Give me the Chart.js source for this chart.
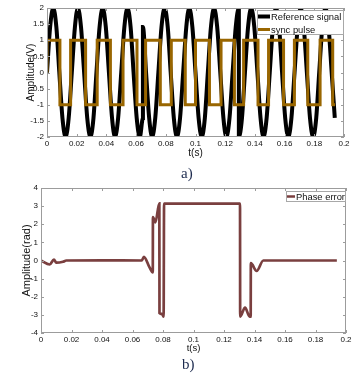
<!DOCTYPE html>
<html>
<head>
<meta charset="utf-8">
<script src="https://cdn.jsdelivr.net/npm/chart.js@4"></script>
<style>
  body { margin: 0; background: #fff; width: 359px; height: 376px; position: relative; overflow: hidden; }
  canvas { position: absolute; left: 0; }
  #chartA { top: 0; }
  #chartB { top: 180px; }
  .cap { position: absolute; font-family: "Liberation Serif", "Times New Roman", serif; font-size: 15px; color: #1d2b4f; line-height: 17px; }
</style>
</head>
<body>
<canvas id="chartA" width="359" height="160"></canvas>
<canvas id="chartB" width="359" height="175"></canvas>
<div class="cap" style="left:181px;top:165px">a)</div>
<div class="cap" style="left:182px;top:356px">b)</div>
<script>
// tick labels
const xTicks = [0, 0.02, 0.04, 0.06, 0.08, 0.1, 0.12, 0.14, 0.16, 0.18, 0.2];
const yTicksA = [-2, -1.5, -1, -0.5, 0, 0.5, 1, 1.5, 2];
const yTicksB = [-4, -3, -2, -1, 0, 1, 2, 3, 4];

// reference signal (V) at 1/8 period steps
const refT = [0, 0.0021, 0.0042, 0.0063, 0.0083, 0.0104, 0.0125, 0.0146,
  0.0167, 0.0188, 0.0208, 0.0229, 0.0250, 0.0271, 0.0292, 0.0313,
  0.0333, 0.0354, 0.0375, 0.0396, 0.0417, 0.0438, 0.0458, 0.0479,
  0.0500, 0.0521, 0.0542, 0.0563, 0.0583, 0.0604, 0.0625, 0.0646,
  0.0646, 0.0667, 0.0688, 0.0708, 0.0729, 0.0750, 0.0771, 0.0792,
  0.0813, 0.0833, 0.0854, 0.0875, 0.0896, 0.0917, 0.0938, 0.0958,
  0.0979, 0.1000, 0.1021, 0.1042, 0.1063, 0.1083, 0.1104, 0.1125,
  0.1146, 0.1167, 0.1188, 0.1208, 0.1229, 0.1250, 0.1271, 0.1292,
  0.1292, 0.1313, 0.1333, 0.1354, 0.1375, 0.1396, 0.1417, 0.1438,
  0.1458, 0.1479, 0.1500, 0.1521, 0.1542, 0.1563, 0.1583, 0.1604,
  0.1625, 0.1646, 0.1667, 0.1688, 0.1708, 0.1729, 0.1750, 0.1771,
  0.1792, 0.1813, 0.1833, 0.1854, 0.1875, 0.1896, 0.1917, 0.1938];
const refV = [0, 1.41, 2, 1.41, 0, -1.41, -2, -1.41,
  0, 1.41, 2, 1.41, 0, -1.41, -2, -1.41,
  0, 1.41, 2, 1.41, 0, -1.41, -2, -1.41,
  0, 1.41, 2, 1.41, 0, -1.41, -2, -1.41,
  1.41, 0, -1.41, -2, -1.41, 0, 1.41, 2,
  1.41, 0, -1.41, -2, -1.41, 0, 1.41, 2,
  1.41, 0, -1.41, -2, -1.41, 0, 1.41, 2,
  1.41, 0, -1.41, -2, -1.41, 0, 1.41, 2,
  -2, -1.41, 0, 1.41, 2, 1.41, 0, -1.41,
  -2, -1.41, 0, 1.41, 2, 1.41, 0, -1.41,
  -2, -1.41, 0, 1.41, 2, 1.41, 0, -1.41,
  -2, -1.41, 0, 1.41, 2, 1.41, 0, -1.41];

// sync pulse: level that starts at each time
const syncT = [0, 0, 0.0087, 0.0159, 0.0260, 0.0338, 0.0427, 0.0512, 0.0606, 0.0664,
  0.0763, 0.0837, 0.0931, 0.1000, 0.1094, 0.1172, 0.1262, 0.1324, 0.1421, 0.1492,
  0.1593, 0.1666, 0.1756, 0.1839, 0.1924, 0.1940];
const syncV = [0, 1, -1, 1, -1, 1, -1, 1, -1, 1,
  -1, 1, -1, 1, -1, 1, -1, 1, -1, 1,
  -1, 1, -1, 1, -1, -1];

// phase error (rad)
const phaseT = [0, 0.0057, 0.0085, 0.0100, 0.0144, 0.0166, 0.0400, 0.0660, 0.0675, 0.0710,
  0.0733, 0.0734, 0.0750, 0.0776, 0.0777, 0.0793, 0.0804, 0.0807, 0.1305, 0.1306,
  0.1338, 0.1368, 0.1375, 0.1376, 0.1414, 0.1458, 0.1940];
const phaseV = [0, -0.22, 0.05, -0.12, -0.07, 0, 0.01, 0, 0.2, -0.35,
  -0.65, 2.4, 2.1, 3.15, -2.9, -2.95, -3.1, 3.14, 3.14, -3.1,
  -2.6, -3.1, -3.1, -0.15, -0.58, 0, 0];

const FONT = 'Arial, "Liberation Sans", sans-serif';
Chart.defaults.font.family = FONT;
Chart.defaults.font.size = 8;
Chart.defaults.color = '#111';

function pts(ts, vs) {
  return ts.map((t, i) => ({ x: t, y: vs[i] }));
}

// axes box with inward tick marks, MATLAB style
const boxPlugin = {
  id: 'box',
  afterDatasetsDraw(chart) {
    const { ctx, chartArea: a, scales } = chart;
    ctx.save();
    ctx.strokeStyle = '#9c9c9c';
    ctx.lineWidth = 1;
    ctx.strokeRect(a.left + 0.5, a.top + 0.5, a.width - 1, a.height - 1);
    ctx.beginPath();
    scales.x.ticks.forEach(t => {
      const x = Math.round(scales.x.getPixelForValue(t.value)) + 0.5;
      ctx.moveTo(x, a.top); ctx.lineTo(x, a.top + 3);
      ctx.moveTo(x, a.bottom); ctx.lineTo(x, a.bottom - 3);
    });
    scales.y.ticks.forEach(t => {
      const y = Math.round(scales.y.getPixelForValue(t.value)) + 0.5;
      ctx.moveTo(a.left, y); ctx.lineTo(a.left + 3, y);
      ctx.moveTo(a.right, y); ctx.lineTo(a.right - 3, y);
    });
    ctx.stroke();
    ctx.restore();
  },
  afterDraw(chart) {
    const lg = chart.options.plugins.box;
    if (!lg) return;
    const ctx = chart.ctx;
    ctx.save();
    ctx.fillStyle = '#fff';
    ctx.fillRect(lg.x, lg.y, lg.w, lg.h);
    ctx.strokeStyle = '#a8a8a8';
    ctx.lineWidth = 1;
    ctx.strokeRect(lg.x + 0.5, lg.y + 0.5, lg.w - 1, lg.h - 1);
    ctx.font = '9.4px ' + FONT;
    ctx.textBaseline = 'middle';
    ctx.fillStyle = '#111';
    lg.items.forEach((it, i) => {
      const cy = lg.y + lg.first + i * lg.step;
      ctx.strokeStyle = it.color;
      ctx.lineWidth = it.width;
      ctx.beginPath();
      ctx.moveTo(lg.x + 1, cy);
      ctx.lineTo(lg.x + 1 + lg.sw, cy);
      ctx.stroke();
      ctx.fillText(it.label, lg.x + lg.sw + 2, cy + 0.5);
    });
    ctx.restore();
  }
};

function scaleOpts(ticks, min, max, title, titleSize, titlePad, size, tickPad) {
  return {
    type: 'linear',
    min: min,
    max: max,
    grid: { display: false, drawTicks: false },
    border: { display: false },
    afterBuildTicks: s => { s.ticks = ticks.map(v => ({ value: v })); },
    ticks: { callback: v => String(v), padding: tickPad, autoSkip: false, maxRotation: 0 },
    title: { display: true, text: title, font: { size: titleSize }, padding: titlePad, color: '#111' },
    afterFit: s => { if (s.isHorizontal()) s.height = size; else s.width = size; }
  };
}

new Chart(document.getElementById('chartA'), {
  type: 'line',
  data: {
    datasets: [
      {
        label: 'Reference signal',
        data: pts(refT, refV),
        borderColor: '#000',
        borderWidth: 4,
        pointRadius: 0,
        cubicInterpolationMode: 'monotone',
        order: 2
      },
      {
        label: 'sync pulse',
        data: pts(syncT, syncV),
        borderColor: '#996600',
        borderWidth: 3,
        pointRadius: 0,
        stepped: true,
        borderJoinStyle: 'miter',
        order: 1
      }
    ]
  },
  options: {
    responsive: false,
    animation: false,
    events: [],
    layout: { padding: { top: 8, right: 15, left: 0, bottom: 0 } },
    plugins: {
      legend: { display: false },
      tooltip: { enabled: false },
      box: {
        x: 257, y: 10, w: 87, h: 25, first: 6.5, step: 13, sw: 12,
        items: [
          { label: 'Reference signal', color: '#000', width: 4 },
          { label: 'sync pulse', color: '#996600', width: 3 }
        ]
      }
    },
    scales: {
      x: scaleOpts(xTicks, 0, 0.2, 't(s)', 10, { top: 0, bottom: 1 }, 23, 2),
      y: scaleOpts(yTicksA, -2, 2, 'Amplitude(V)', 10, { top: 25, bottom: 0 }, 47, 3)
    }
  },
  plugins: [boxPlugin]
});

new Chart(document.getElementById('chartB'), {
  type: 'line',
  data: {
    datasets: [
      {
        label: 'Phase error',
        data: pts(phaseT, phaseV),
        borderColor: '#7a3f3f',
        borderWidth: 2.7,
        pointRadius: 0,
        cubicInterpolationMode: 'monotone'
      }
    ]
  },
  options: {
    responsive: false,
    animation: false,
    events: [],
    layout: { padding: { top: 8, right: 13, left: 0, bottom: 0 } },
    plugins: {
      legend: { display: false },
      tooltip: { enabled: false },
      box: {
        x: 286, y: 11, w: 60, h: 11, first: 5.5, step: 13, sw: 8,
        items: [{ label: 'Phase error', color: '#7a3f3f', width: 2.5 }]
      }
    },
    scales: {
      x: scaleOpts(xTicks, 0, 0.2, 't(s)', 9.5, { top: 0, bottom: 1 }, 22, 2),
      y: scaleOpts(yTicksB, -4, 4, 'Amplitude(rad)', 11, { top: 20, bottom: 0 }, 41, 3)
    }
  },
  plugins: [boxPlugin]
});
</script>
</body>
</html>
